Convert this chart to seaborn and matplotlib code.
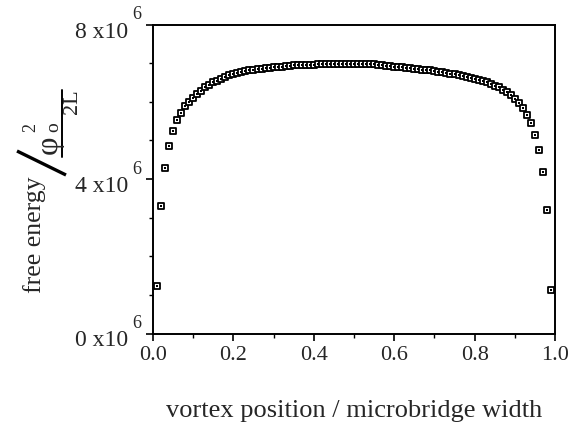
import numpy as np
import pandas as pd
import seaborn as sns
import matplotlib
matplotlib.use("Agg")
import matplotlib.pyplot as plt
from matplotlib.lines import Line2D
from matplotlib.transforms import ScaledTranslation
from matplotlib.ticker import MultipleLocator, FixedLocator

# vortex position (fraction of microbridge width)
position = [round(0.01 * i, 2) for i in range(1, 100)]
# free energy (units of 1e6 * phi0^2/2L)
energy_1e6 = [
    1.24, 3.31, 4.28, 4.85, 5.25, 5.52, 5.72, 5.88, 6.00, 6.10,
    6.20, 6.29, 6.37, 6.44, 6.50, 6.55, 6.60, 6.64, 6.68, 6.71,
    6.74, 6.77, 6.79, 6.81, 6.83, 6.85, 6.86, 6.87, 6.88, 6.89,
    6.90, 6.91, 6.92, 6.93, 6.94, 6.94, 6.95, 6.95, 6.96, 6.96,
    6.97, 6.97, 6.97, 6.98, 6.98, 6.98, 6.98, 6.98, 6.98, 6.98,
    6.98, 6.98, 6.97, 6.97, 6.97, 6.96, 6.95, 6.93, 6.92, 6.91,
    6.90, 6.89, 6.88, 6.87, 6.86, 6.85, 6.83, 6.82, 6.81, 6.80,
    6.78, 6.77, 6.75, 6.73, 6.71, 6.69, 6.67, 6.64, 6.62, 6.59,
    6.56, 6.53, 6.50, 6.46, 6.42, 6.37, 6.31, 6.24, 6.17, 6.08,
    5.98, 5.83, 5.66, 5.44, 5.14, 4.75, 4.17, 3.20, 1.13,
]
energy = [v * 1e6 for v in energy_1e6]

x_ticks = [0.0, 0.2, 0.4, 0.6, 0.8, 1.0]
y_ticks = [0, 4e6, 8e6]
y_tick_labels = ["0 x10", "4 x10", "8 x10"]
y_tick_exponent = "6"
x_label = "vortex position / microbridge width"

sns.set_theme(style="ticks")
plt.rcParams["font.family"] = ["Liberation Serif", "DejaVu Serif"]

df = pd.DataFrame({"pos": position, "E": energy})

W, H = 574, 424
fig = plt.figure(figsize=(W / 100, H / 100), dpi=100)
ax = fig.add_axes([153 / W, 1 - 333.5 / H, 402 / W, 309 / H])

sns.scatterplot(data=df, x="pos", y="E", marker="s", s=22,
                facecolor="white", edgecolor="black", linewidth=1.3,
                ax=ax, legend=False, zorder=3)
sns.scatterplot(data=df, x="pos", y="E", marker="s", s=1.2,
                color="black", linewidth=0, ax=ax, legend=False, zorder=4)

ax.set_xlim(0, 1.0)
ax.set_ylim(0, 8e6)
ax.xaxis.set_major_locator(FixedLocator(x_ticks))
ax.xaxis.set_minor_locator(MultipleLocator(0.1))
ax.yaxis.set_major_locator(FixedLocator(y_ticks))
ax.yaxis.set_minor_locator(MultipleLocator(1e6))
ax.set_xticklabels([f"{t:.1f}" for t in x_ticks])
ax.set_yticklabels(y_tick_labels)
ax.set_ylabel("")

for s in ax.spines.values():
    s.set_visible(True)
    s.set_color("black")
    s.set_linewidth(1.4)

ax.tick_params(axis="x", which="major", direction="out", length=5,
               width=1.2, color="black", labelsize=16, pad=4)
ax.tick_params(axis="y", which="major", direction="out", length=5,
               width=1.2, color="black", labelsize=17, pad=13)
ax.tick_params(axis="both", which="minor", direction="out", length=3,
               width=1.0, color="black")

# shift y tick labels slightly downward
shift = ScaledTranslation(0, -5 / 100, fig.dpi_scale_trans)
for lab in ax.get_yticklabels():
    lab.set_transform(lab.get_transform() + shift)

# exponent of the y tick labels
for yv in y_ticks:
    ax.annotate(y_tick_exponent, xy=(0, yv), xycoords=ax.get_yaxis_transform(),
                xytext=(-16, 10), textcoords="offset pixels",
                ha="center", va="center", fontsize=13)

ax.set_xlabel(x_label, fontsize=19)
ax.xaxis.set_label_coords(0.5, -0.215)
ax.xaxis.label.set_va("top")

# y label: free energy / (phi_o^2 / 2L)
def fp(x, y):
    return (x / W, 1 - y / H)

fig.text(*fp(35, 235), "free energy", rotation=90, fontsize=18.5,
         ha="center", va="center")
fig.add_artist(Line2D([17 / W, 66 / W], [1 - 151 / H, 1 - 175 / H],
                      transform=fig.transFigure, color="black", lw=2.4,
                      solid_capstyle="butt"))
fig.text(*fp(31, 127), "2", rotation=90, fontsize=13,
         ha="center", va="center")
fig.text(*fp(49, 145), "φ", rotation=90, fontsize=23,
         ha="center", va="center")
fig.text(*fp(54, 127), "o", rotation=90, fontsize=14,
         ha="center", va="center")
fig.add_artist(Line2D([62 / W, 62 / W], [1 - 90 / H, 1 - 157 / H],
                      transform=fig.transFigure, color="black", lw=1.4))
fig.text(*fp(73, 102), "2L", rotation=90, fontsize=16,
         ha="center", va="center")

fig.savefig("out.png", dpi=100, facecolor="white")
